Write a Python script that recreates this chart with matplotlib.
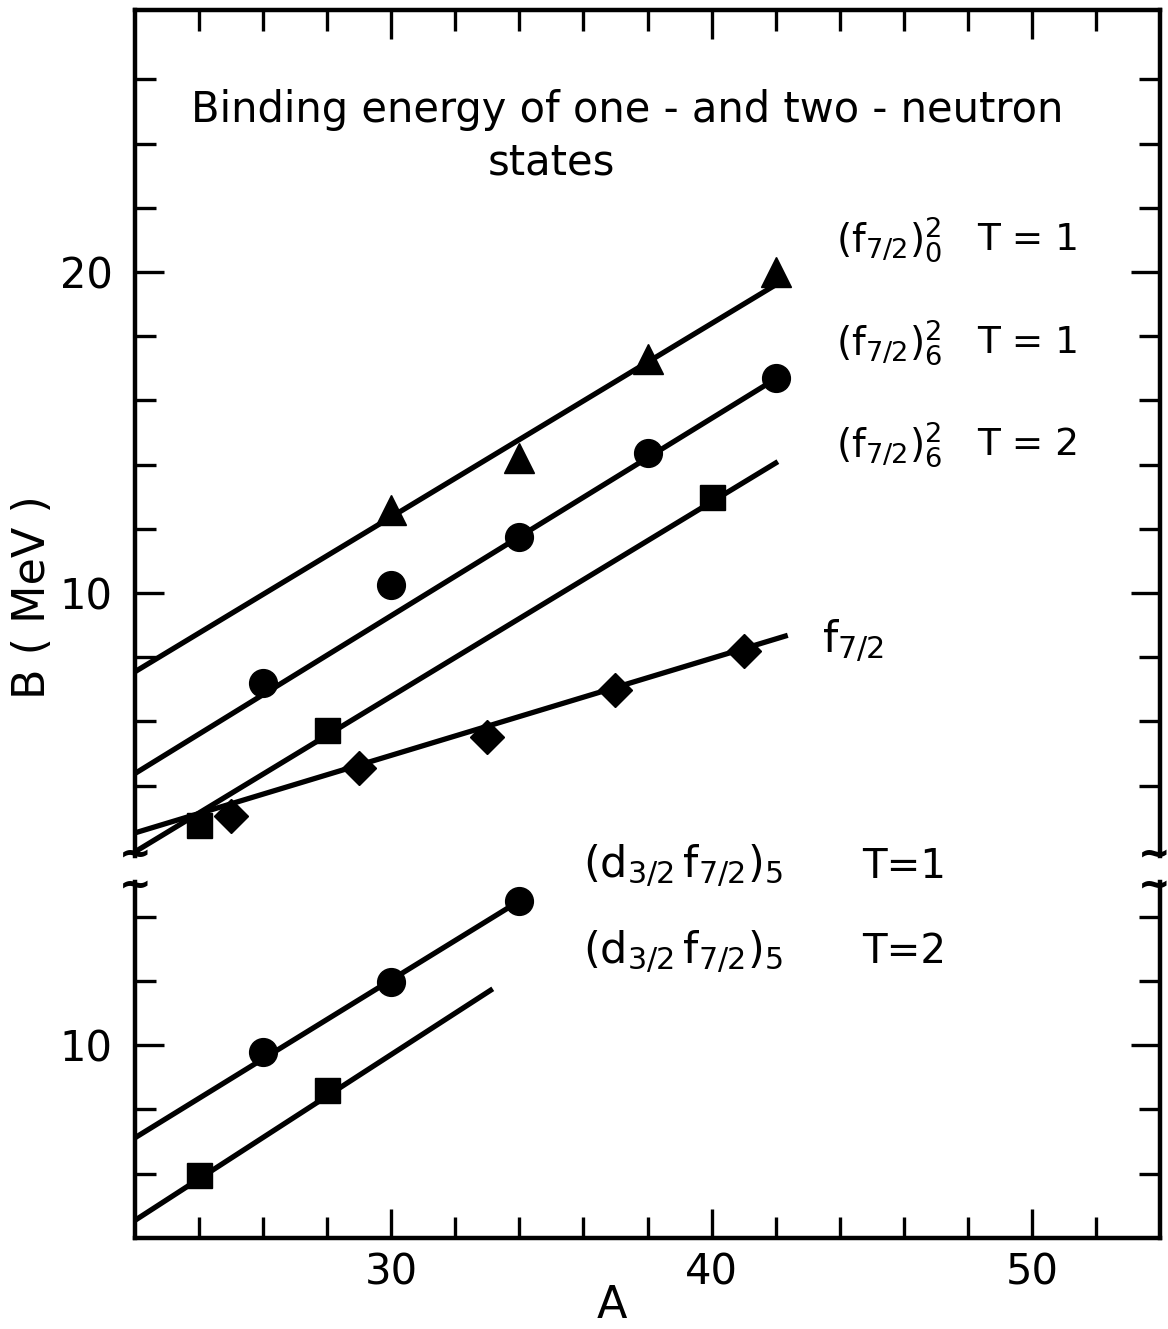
import matplotlib
matplotlib.use("Agg")
import matplotlib.pyplot as plt
from matplotlib.ticker import FixedLocator

plt.rcParams["font.family"] = ["DejaVu Sans"]
plt.rcParams["mathtext.default"] = "regular"

# ---- upper panel (one- and two-neutron f7/2 states) ----
# (f7/2)^2_0  T=1  triangles
tri_A = [30, 34, 38, 42]
tri_B = [12.6, 14.2, 17.3, 20.0]
tri_fit_A = [22, 42]
tri_fit_B = [7.55, 19.6]

# (f7/2)^2_6  T=1  circles
circ_A = [26, 30, 34, 38, 42]
circ_B = [7.2, 10.25, 11.75, 14.35, 16.7]
circ_fit_A = [22, 42]
circ_fit_B = [4.38, 16.67]

# (f7/2)^2_6  T=2  squares
sq_A = [24, 28, 40]
sq_B = [2.77, 5.73, 13.0]
sq_fit_A = [22, 42]
sq_fit_B = [1.94, 14.05]

# f7/2 single neutron  diamonds
dia_A = [25, 29, 33, 37, 41]
dia_B = [3.06, 4.56, 5.51, 6.98, 8.19]
dia_fit_A = [22, 42.3]
dia_fit_B = [2.53, 8.66]

# ---- lower panel (d3/2 f7/2)_5 ----
dT1_A = [26, 30, 34]
dT1_B = [9.8, 11.98, 14.49]
dT1_fit_A = [22, 34]
dT1_fit_B = [7.12, 14.49]

dT2_A = [24, 28]
dT2_B = [5.95, 8.6]
dT2_fit_A = [22, 33.1]
dT2_fit_B = [4.55, 11.71]

W, H = 1168, 1329
L, R = 135, 1160


def fx(px):
    return px / W


def fy(py):
    return 1 - py / H


fig = plt.figure(figsize=(W / 100, H / 100), dpi=100)
ax_top = fig.add_axes([fx(L), fy(856), fx(R) - fx(L), fy(10) - fy(856)])
ax_bot = fig.add_axes([fx(L), fy(1238), fx(R) - fx(L), fy(882) - fy(1238)])

LW = 3.8
MK = dict(color="black", linestyle="none", zorder=3)

ax_top.plot(tri_fit_A, tri_fit_B, color="black", lw=LW)
ax_top.plot(tri_A, tri_B, marker="^", ms=21, **MK)
ax_top.plot(circ_fit_A, circ_fit_B, color="black", lw=LW)
ax_top.plot(circ_A, circ_B, marker="o", ms=20, **MK)
ax_top.plot(sq_fit_A, sq_fit_B, color="black", lw=LW)
ax_top.plot(sq_A, sq_B, marker="s", ms=18, **MK)
ax_top.plot(dia_fit_A, dia_fit_B, color="black", lw=LW)
ax_top.plot(dia_A, dia_B, marker="D", ms=17, **MK)

ax_bot.plot(dT1_fit_A, dT1_fit_B, color="black", lw=LW)
ax_bot.plot(dT1_A, dT1_B, marker="o", ms=20, **MK)
ax_bot.plot(dT2_fit_A, dT2_fit_B, color="black", lw=LW)
ax_bot.plot(dT2_A, dT2_B, marker="s", ms=18, **MK)

for ax in (ax_top, ax_bot):
    ax.set_xlim(22, 54)
    for s in ax.spines.values():
        s.set_linewidth(3.2)
    ax.xaxis.set_major_locator(FixedLocator([30, 40, 50]))
    ax.xaxis.set_minor_locator(FixedLocator([24, 26, 28, 32, 34, 36, 38, 42, 44, 46, 48, 52]))
    ax.tick_params(which="major", direction="in", length=21, width=2.4,
                   labelsize=30, left=True, right=True)
    ax.tick_params(which="minor", direction="in", length=15, width=2.4,
                   left=True, right=True)

ax_top.set_ylim(1.81, 28.16)
ax_top.spines["bottom"].set_visible(False)
ax_top.yaxis.set_major_locator(FixedLocator([10, 20]))
ax_top.yaxis.set_minor_locator(FixedLocator([4, 6, 8, 12, 14, 16, 18, 22, 24, 26]))
ax_top.tick_params(axis="x", which="both", top=True, bottom=False,
                   labelbottom=False, labeltop=False)
ax_top.tick_params(axis="y", which="major", pad=16)

ax_bot.set_ylim(4.0, 15.08)
ax_bot.spines["top"].set_visible(False)
ax_bot.yaxis.set_major_locator(FixedLocator([10]))
ax_bot.yaxis.set_minor_locator(FixedLocator([6, 8, 12, 14]))
ax_bot.tick_params(axis="x", which="both", top=False, bottom=True)
ax_bot.tick_params(axis="x", which="major", pad=10)
ax_bot.tick_params(axis="y", which="major", pad=16)

# titles and labels
ax_top.text(37.36, 25.05, "Binding energy of one - and two - neutron",
            fontsize=30, ha="center", va="center")
ax_top.text(34.99, 23.4, "states", fontsize=30, ha="center", va="center")

ax_top.text(43.9, 21.0, r"$(f_{7/2})_{0}^{2}$", fontsize=28, va="center")
ax_top.text(48.3, 21.0, "T = 1", fontsize=27, va="center")
ax_top.text(43.9, 17.8, r"$(f_{7/2})_{6}^{2}$", fontsize=28, va="center")
ax_top.text(48.3, 17.8, "T = 1", fontsize=27, va="center")
ax_top.text(43.9, 14.6, r"$(f_{7/2})_{6}^{2}$", fontsize=28, va="center")
ax_top.text(48.3, 14.6, "T = 2", fontsize=27, va="center")
ax_top.text(43.45, 8.5, r"$f_{7/2}$", fontsize=31, va="center")

ax_bot.text(36.0, 15.55, r"$(d_{3/2}\,f_{7/2})_{5}$", fontsize=31,
            va="center", clip_on=False)
ax_bot.text(44.7, 15.55, "T=1", fontsize=29, va="center", clip_on=False)
ax_bot.text(36.0, 12.9, r"$(d_{3/2}\,f_{7/2})_{5}$", fontsize=31, va="center")
ax_bot.text(44.7, 12.9, "T=2", fontsize=29, va="center")

fig.text(fx(33), fy(597), "B ( MeV )", rotation=90, fontsize=32,
         ha="center", va="center")
fig.text(fx(612), fy(1305), "A", fontsize=32, ha="center", va="center")

# axis break marks (two stacked tildes on each vertical spine)
for xp in (L, R - 6):
    fig.text(fx(xp), fy(870), "~\n~", fontsize=28, fontweight="bold",
             linespacing=0.75, ha="center", va="center")

fig.savefig("out.png", dpi=100, facecolor="white")
